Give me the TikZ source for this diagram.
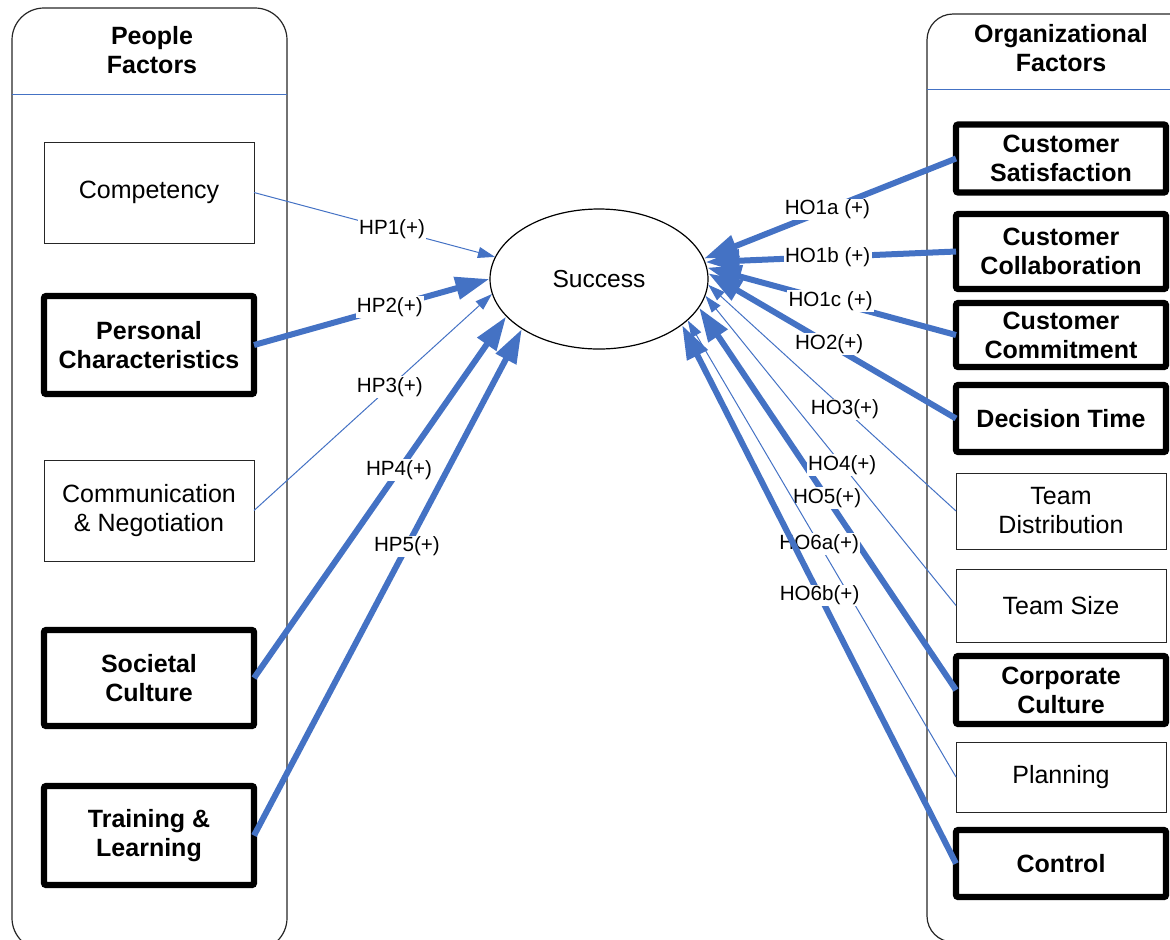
\documentclass[tikz,border=0pt]{standalone}
\usepackage{fontspec}
\setmainfont{Liberation Sans}
\usetikzlibrary{shapes.geometric,arrows.meta}
\definecolor{linkblue}{HTML}{4472C4}

\begin{document}
\begin{tikzpicture}[x=0.5pt,y=-0.5pt,
  panel/.style={draw=black!85,line width=0.6pt,rounded corners=16pt},
  head/.style={align=center,font=\fontsize{12.5}{14.5}\selectfont\bfseries},
  plainbox/.style={draw=black!85,line width=0.5pt,minimum width=105pt,inner sep=0pt,outer sep=0pt,
    align=center,font=\fontsize{12.5}{14.5}\selectfont},
  boldbox/.style={plainbox,draw=black,line width=3.2pt,rounded corners=1.2pt,font=\fontsize{12.5}{14.5}\selectfont\bfseries},
  thinlink/.style={draw=linkblue,line width=0.5pt,-{Triangle[length=8.5pt,width=5.5pt]}},
  thicklink/.style={draw=linkblue,line width=3pt,-{Triangle[length=17pt,width=11pt]}},
  hyp/.style={fill=white,inner sep=0.6pt,font=\fontsize{10.3}{12}\selectfont}]
\useasboundingbox (0,0) rectangle (1170,939);
\clip (0,0) rectangle (1170,939);

% panels
\draw[panel] (12,8) rectangle (287,950);
\draw[panel,rounded corners=13pt] (927,14) rectangle (1230,942);
\draw[linkblue,line width=0.5pt] (12,94) -- (287,94);
\draw[linkblue,line width=0.5pt] (927,89) -- (1170,89);
\node[head] (peoplehead) at (152,50) {People\\Factors};
\node[head] (orghead) at (1061,48) {Organizational\\Factors};

% people factors
\node[plainbox,minimum height=50.5pt] (comp) at (149,192.5) {Competency};
\node[boldbox,minimum height=49pt] (pers) at (149,345) {Personal\\Characteristics};
\node[plainbox,minimum height=50.5pt] (comm) at (149,510.5) {Communication\\\& Negotiation};
\node[boldbox,minimum height=48pt] (soc) at (149,678) {Societal\\Culture};
\node[boldbox,minimum height=49.5pt] (train) at (149,835.5) {Training \&\\Learning};

% organizational factors
\node[boldbox,minimum height=34pt] (csat) at (1061,158.5) {Customer\\Satisfaction};
\node[boldbox,minimum height=37.5pt] (ccoll) at (1061,251.5) {Customer\\Collaboration};
\node[boldbox,minimum height=32pt] (ccomm) at (1061,335) {Customer\\Commitment};
\node[boldbox,minimum height=33.5pt] (dtime) at (1061,418.5) {Decision Time};
\node[plainbox,minimum height=38pt] (tdist) at (1061,511) {Team\\Distribution};
\node[plainbox,minimum height=36.5pt] (tsize) at (1061,605.5) {Team Size};
\node[boldbox,minimum height=34pt] (corp) at (1061,690) {Corporate\\Culture};
\node[plainbox,minimum height=35pt] (plan) at (1061,777) {Planning};
\node[boldbox,minimum height=33.5pt] (ctrl) at (1061,863.5) {Control};

% outcome
\node[ellipse,draw,line width=0.6pt,minimum width=109pt,minimum height=70pt,inner sep=0pt,
  font=\fontsize{12.3}{14}\selectfont] (succ) at (599,279) {Success};

% hypotheses, people side
\draw[thinlink] (comp.east) -- node[hyp,pos=.573] {HP1(+)} (succ.168.6);
\draw[thicklink] (pers.east) -- node[hyp,pos=.577] {HP2(+)} (succ.180.5);
\draw[thinlink] (comm.east) -- node[hyp,pos=.571] {HP3(+)} (succ.188);
\draw[thicklink] (soc.east) -- node[hyp,pos=.575] {HP4(+)} (succ.202.7);
\draw[thicklink] (train.east) -- node[hyp,pos=.571] {HP5(+)} (succ.213.5);

% hypotheses, organizational side
\draw[thicklink] (csat.west) -- node[hyp,pos=.51] {HO1a (+)} (succ.11.2);
\draw[thicklink] (ccoll.west) -- node[hyp,pos=.512] {HO1b (+)} (succ.9);
\draw[thicklink] (ccomm.west) -- node[hyp,pos=.504] {HO1c (+)} (succ.6.9);
\draw[thicklink] (dtime.west) -- node[hyp,pos=.512] {HO2(+)} (succ.3.1);
\draw[thinlink] (tdist.west) -- node[hyp,pos=.448] {HO3(+)} (succ.-3.1);
\draw[thicklink] (corp.west) -- node[hyp,pos=.502] {HO5(+)} (succ.-16.6);
\draw[thinlink] (tsize.west) -- node[hyp,pos=.454] {HO4(+)} (succ.-9.5);
\draw[thinlink] (plan.west) -- node[hyp,pos=.51] {HO6a(+)} (succ.-25.6);
\draw[thicklink] (ctrl.west) -- node[hyp,pos=.498] {HO6b(+)} (succ.-29.2);
\end{tikzpicture}
\end{document}
